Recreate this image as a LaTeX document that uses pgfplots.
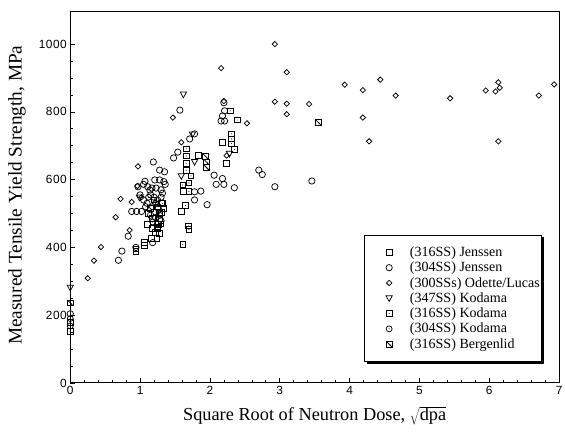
\documentclass[border=0pt]{standalone}
\usepackage{fontspec}
\setmainfont{Liberation Serif}
\newfontfamily\tickfont{Liberation Sans}[LetterSpace=4]
\usepackage{pgfplots}
\pgfplotsset{compat=1.18}
\usetikzlibrary{shadows}

\pgfdeclareplotmark{osq}{%
  \pgfpathrectangle{\pgfqpoint{-\pgfplotmarksize}{-\pgfplotmarksize}}{\pgfqpoint{2\pgfplotmarksize}{2\pgfplotmarksize}}%
  \pgfusepathqstroke}
\pgfdeclareplotmark{sqdot}{%
  \pgfpathrectangle{\pgfqpoint{-\pgfplotmarksize}{-\pgfplotmarksize}}{\pgfqpoint{2\pgfplotmarksize}{2\pgfplotmarksize}}%
  \pgfusepathqstroke
  \pgfpathcircle{\pgfpointorigin}{0.55pt}\pgfusepathqfill}
\pgfdeclareplotmark{circdot}{%
  \pgfpathcircle{\pgfpointorigin}{\pgfplotmarksize}\pgfusepathqstroke
  \pgfpathcircle{\pgfpointorigin}{0.55pt}\pgfusepathqfill}
\pgfdeclareplotmark{ocirc}{%
  \pgfpathcircle{\pgfpointorigin}{\pgfplotmarksize}\pgfusepathqstroke}
\pgfdeclareplotmark{dia}{%
  \pgfpathmoveto{\pgfqpoint{0pt}{\pgfplotmarksize}}%
  \pgfpathlineto{\pgfqpoint{\pgfplotmarksize}{0pt}}%
  \pgfpathlineto{\pgfqpoint{0pt}{-\pgfplotmarksize}}%
  \pgfpathlineto{\pgfqpoint{-\pgfplotmarksize}{0pt}}%
  \pgfpathclose\pgfusepathqstroke}
\pgfdeclareplotmark{tridown}{%
  \pgfpathmoveto{\pgfqpoint{-\pgfplotmarksize}{0.8\pgfplotmarksize}}%
  \pgfpathlineto{\pgfqpoint{\pgfplotmarksize}{0.8\pgfplotmarksize}}%
  \pgfpathlineto{\pgfqpoint{0pt}{-\pgfplotmarksize}}%
  \pgfpathclose\pgfusepathqstroke}
\pgfdeclareplotmark{bsq}{%
  \pgfpathrectangle{\pgfqpoint{-\pgfplotmarksize}{-\pgfplotmarksize}}{\pgfqpoint{2\pgfplotmarksize}{2\pgfplotmarksize}}%
  \pgfusepathqstroke
  \pgfpathmoveto{\pgfqpoint{-\pgfplotmarksize}{\pgfplotmarksize}}%
  \pgfpathlineto{\pgfqpoint{\pgfplotmarksize}{-\pgfplotmarksize}}%
  \pgfusepathqstroke
  \pgfpathmoveto{\pgfqpoint{0.1\pgfplotmarksize}{-0.5\pgfplotmarksize}}%
  \pgfpathlineto{\pgfqpoint{0.6\pgfplotmarksize}{-0.6\pgfplotmarksize}}%
  \pgfpathlineto{\pgfqpoint{0.5\pgfplotmarksize}{-0.1\pgfplotmarksize}}%
  \pgfpathclose\pgfusepathqfill}

\pgfplotsset{
  pts/.style={only marks, line width=0.75pt, black,
    legend image code/.code={%
      \node[inner sep=0pt, minimum width=44pt, minimum height=2pt, anchor=center] at (-2pt,0pt) {};
      \draw[##1, mark repeat=1] plot coordinates {(0pt,0pt)};}},
}

\begin{document}
\begin{tikzpicture}
\begin{axis}[
  name=ax,
  scale only axis, width=494pt, height=375pt,
  xmin=0, xmax=7, ymin=0, ymax=1095,
  xtick={0,1,...,7}, ytick={0,200,...,1000},
  minor x tick num=4, minor y tick num=3,
  tick pos=left, tick align=inside,
  major tick length=5pt, minor tick length=3pt,
  axis line style={line width=0.9pt},
  every tick/.style={black, line width=0.6pt},
  ticklabel style={font=\tickfont\fontsize{12}{14}\selectfont},
  /pgf/number format/assume math mode=true,
  /pgf/number format/1000 sep={},
  xlabel={Square Root of Neutron Dose, $\sqrt{\mbox{dpa}}$},
  ylabel={Measured Tensile Yield Strength, MPa},
  xlabel style={font=\fontsize{18.5}{20}\selectfont, at={(axis description cs:0.5,-0.088)}, anchor=center},
  ylabel style={font=\fontsize{19.5}{21}\selectfont, at={(axis description cs:-0.109,0.506)}, anchor=center},
  clip=false,
  legend cell align=left,
  legend style={font=\fontsize{14.2}{15}\selectfont, draw=black, line width=0.8pt, fill=white,
    at={(rel axis cs:0.9656,0.4)}, anchor=north east,
    inner xsep=1pt, inner ysep=10pt, row sep=0.1pt,
    nodes={inner xsep=1pt},
    drop shadow={shadow xshift=2.5pt, shadow yshift=-2.5pt, fill=black, opacity=1}},
]
% (316SS) Jenssen
\addplot[pts, mark=osq, mark size=3pt] coordinates {
(1.06,414)(1.06,407)(1.16,427)(1.24,427)(1.10,469)(1.17,456)(1.25,456)(1.26,469)
(1.27,487)(1.31,504)(1.34,514)(1.17,487)(1.21,504)(1.59,506)(1.84,671)(2.18,710)
(2.24,648)(1.22,445)(1.30,530)(1.12,500)(1.62,566)(1.28,440)
};
\addlegendentry{(316SS) Jenssen}
% (304SS) Jenssen
\addplot[pts, mark=ocirc, mark size=3.2pt] coordinates {
(0,204)(0.69,362)(0.74,389)(0.83,433)(0.94,400)(1.18,414)
(0.88,506)(0.95,506)(1.02,506)(1.05,586)(1.11,579)(1.14,569)(1.19,652)(1.28,628)
(1.35,623)(1.21,599)(1.28,599)(1.34,594)(1.36,586)(0.97,579)
(1.48,664)(1.54,681)(1.57,805)(1.71,720)(1.78,735)
(1.78,564)(1.87,566)(1.96,526)(1.78,540)
(2.06,613)(2.18,603)(2.09,586)(2.20,586)(2.35,576)
(2.20,827)(2.21,803)(2.18,788)(2.16,773)(2.21,773)
(2.70,628)(2.75,615)(2.93,579)(3.46,596)
(1.15,555)(1.20,548)(1.25,540)(1.30,548)(1.10,530)(1.18,520)(1.26,515)(1.05,540)
(1.08,520)(1.22,488)(1.30,478)(1.15,495)(1.25,470)(1.32,560)(1.00,555)(1.07,595)
(1.17,575)(1.23,575)(1.30,570)
};
\addlegendentry{(304SS) Jenssen}
% (300SSs) Odette/Lucas
\addplot[pts, mark=dia, mark size=2.7pt] coordinates {
(0.25,309)(0.34,361)(0.44,401)(0.65,489)(0.72,543)(0.85,451)(0.88,534)(0.97,639)
(0.96,581)(1.02,548)(1.47,783)(1.59,710)(2.16,929)(2.20,832)(2.24,671)(2.53,766)
(2.93,1000)(2.93,830)(3.10,917)(3.10,824)(3.10,793)(3.42,823)(3.93,880)(4.19,864)
(4.19,783)(4.28,713)(4.44,895)(4.66,848)(5.44,840)(5.95,863)(6.09,860)(6.13,887)
(6.15,871)(6.13,713)(6.71,848)(6.93,881)
};
\addlegendentry{(300SSs) Odette/Lucas}
% (347SS) Kodama
\addplot[pts, mark=tridown, mark size=3.2pt] coordinates {
(0,281)(1.62,851)(1.59,610)(1.78,652)(1.75,733)(2.28,676)(0.99,547)
};
\addlegendentry{(347SS) Kodama}
% (316SS) Kodama
\addplot[pts, mark=sqdot, mark size=2.8pt] coordinates {
(0,178)(0,152)(2.29,803)(2.39,776)(2.31,735)(2.31,720)(2.31,706)(2.35,689)
(1.66,691)(1.66,670)(1.66,648)(1.66,627)(1.73,611)(1.70,590)(1.70,565)(1.65,524)
(1.61,584)(1.61,409)(1.69,463)(1.70,453)(0.94,396)(0.94,389)(1.25,520)(1.28,500)
(1.30,470)(1.25,460)(1.32,530)(1.20,540)(1.15,515)
};
\addlegendentry{(316SS) Kodama}
% (304SS) Kodama
\addplot[pts, mark=circdot, mark size=3pt] coordinates {
(0,190)(0,168)(1.12,548)(1.22,530)(1.28,495)(1.18,475)
};
\addlegendentry{(304SS) Kodama}
% (316SS) Bergenlid
\addplot[pts, mark=bsq, mark size=2.9pt] coordinates {
(0,236)(1.94,668)(1.95,652)(1.95,636)(3.55,769)
};
\addlegendentry{(316SS) Bergenlid}
\end{axis}
\pgfresetboundingbox
\path (ax.south west) +(-71pt,-51pt) (ax.north east) +(6pt,12pt);
\end{tikzpicture}
\end{document}
